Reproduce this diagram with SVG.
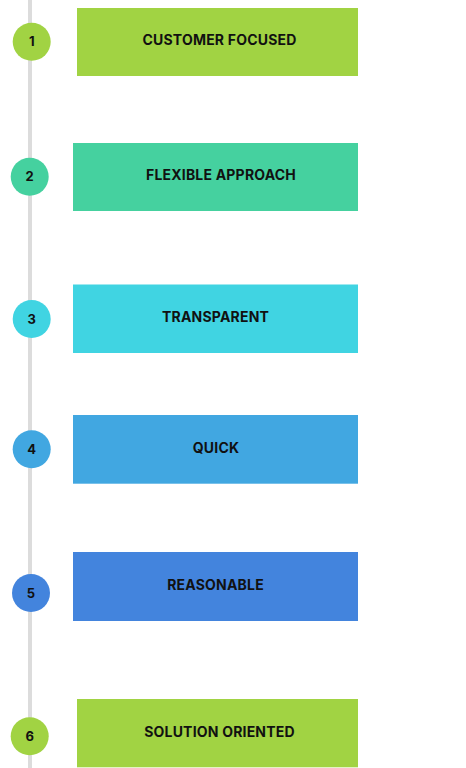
<svg xmlns="http://www.w3.org/2000/svg" width="466" height="768" viewBox="0 0 466 768">
<style>
.t{font-family:Inter,"Noto Sans",sans-serif;font-weight:700;font-size:14px;letter-spacing:0.2px;fill:#111;text-anchor:middle}
.n{font-family:Inter,"Noto Sans",sans-serif;font-weight:700;font-size:13px;fill:#111;text-anchor:middle}
</style>
<rect width="466" height="768" fill="#fff"/>
<g id="connectors">
<line x1="30" y1="0" x2="30" y2="768" stroke="#dcdcdc" stroke-width="4"/>
</g>
<g id="node1">
<rect x="77" y="8" width="281" height="68" fill="#a1d343"/>
<text class="t" x="219.5" y="45">CUSTOMER FOCUSED</text>
<circle cx="31.7" cy="41.7" r="19" fill="#a1d343"/>
<text class="n" x="31.7" y="46.3">1</text>
</g>
<g id="node2">
<rect x="73" y="143" width="285" height="68" fill="#45d19f"/>
<text class="t" x="221" y="179.5">FLEXIBLE APPROACH</text>
<circle cx="29.7" cy="176.7" r="19" fill="#45d19f"/>
<text class="n" x="29.7" y="181.3">2</text>
</g>
<g id="node3">
<rect x="73" y="284.5" width="285" height="68.5" fill="#40d4e2"/>
<text class="t" x="215.5" y="321.5">TRANSPARENT</text>
<circle cx="31.7" cy="319" r="19" fill="#40d4e2"/>
<text class="n" x="31.7" y="323.6">3</text>
</g>
<g id="node4">
<rect x="73" y="415" width="285" height="68.7" fill="#41a7e1"/>
<text class="t" x="216" y="452.5">QUICK</text>
<circle cx="31.7" cy="449.3" r="19" fill="#41a7e1"/>
<text class="n" x="31.7" y="453.9">4</text>
</g>
<g id="node5">
<rect x="73" y="552" width="285" height="69" fill="#4384dd"/>
<text class="t" x="215.5" y="589.5">REASONABLE</text>
<circle cx="31" cy="593" r="19" fill="#4384dd"/>
<text class="n" x="31" y="597.6">5</text>
</g>
<g id="node6">
<rect x="77" y="699" width="281" height="68.3" fill="#a1d343"/>
<text class="t" x="219.5" y="736.5">SOLUTION ORIENTED</text>
<circle cx="29.7" cy="736.3" r="19" fill="#a1d343"/>
<text class="n" x="29.7" y="740.9">6</text>
</g>
</svg>
